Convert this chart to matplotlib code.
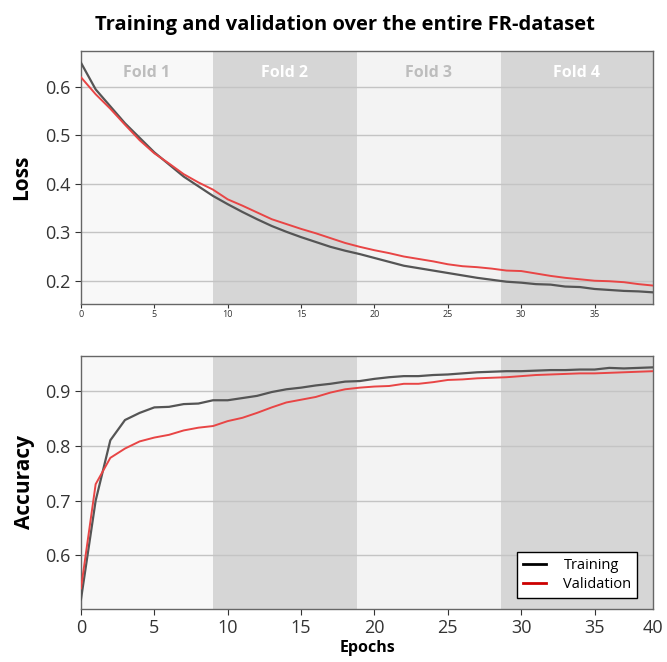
import numpy as np
import matplotlib
matplotlib.use('Agg')
import matplotlib.pyplot as plt
from matplotlib.lines import Line2D

plt.rcParams['font.family'] = ['Open Sans', 'DejaVu Sans']

# epochs
epochs = np.arange(40)

loss_train = [0.650, 0.595, 0.560, 0.525, 0.495, 0.465, 0.440, 0.415, 0.395, 0.375,
              0.358, 0.342, 0.327, 0.313, 0.301, 0.290, 0.280, 0.270, 0.262, 0.255,
              0.247, 0.239, 0.231, 0.226, 0.221, 0.216, 0.211, 0.206, 0.202, 0.198,
              0.196, 0.193, 0.192, 0.188, 0.187, 0.183, 0.181, 0.179, 0.178, 0.176]
loss_val = [0.620, 0.585, 0.555, 0.522, 0.490, 0.463, 0.442, 0.420, 0.403, 0.388,
            0.368, 0.355, 0.341, 0.327, 0.317, 0.307, 0.298, 0.288, 0.278, 0.270,
            0.263, 0.257, 0.250, 0.245, 0.240, 0.234, 0.230, 0.228, 0.225, 0.221,
            0.220, 0.215, 0.210, 0.206, 0.203, 0.200, 0.199, 0.197, 0.193, 0.190]

acc_train = [0.520, 0.700, 0.810, 0.847, 0.860, 0.870, 0.871, 0.876, 0.877, 0.883,
             0.883, 0.887, 0.891, 0.898, 0.903, 0.906, 0.910, 0.913, 0.917, 0.918,
             0.922, 0.925, 0.927, 0.927, 0.929, 0.930, 0.932, 0.934, 0.935, 0.936,
             0.936, 0.937, 0.938, 0.938, 0.939, 0.939, 0.942, 0.941, 0.942, 0.943]
acc_val = [0.540, 0.730, 0.778, 0.795, 0.808, 0.815, 0.820, 0.828, 0.833, 0.836,
           0.845, 0.851, 0.860, 0.870, 0.879, 0.884, 0.889, 0.897, 0.903, 0.906,
           0.908, 0.909, 0.913, 0.913, 0.916, 0.920, 0.921, 0.923, 0.924, 0.925,
           0.927, 0.929, 0.930, 0.931, 0.932, 0.932, 0.933, 0.934, 0.935, 0.936]

# fold boundaries (in epochs)
fold_names  = ['Fold 1', 'Fold 2', 'Fold 3', 'Fold 4']
fold_edges  = [0, 9.0, 18.8, 28.6, 39]
fold_colors = ['#f8f8f8', '#d6d6d6', '#f3f3f3', '#d6d6d6']
fold_text   = ['#bdbdbd', '#ffffff', '#bdbdbd', '#ffffff']

fig = plt.figure(figsize=(6.67, 6.62), dpi=100)
ax1 = fig.add_axes([0.1214, 0.5408, 0.858, 0.382])
ax2 = fig.add_axes([0.1214, 0.0805, 0.858, 0.382])

train_col = '#555555'
val_col   = '#e84545'

for ax in (ax1, ax2):
    for i in range(4):
        ax.axvspan(fold_edges[i], fold_edges[i+1], color=fold_colors[i], zorder=0, lw=0)
    ax.grid(axis='y', color='#c4c4c4', lw=1, zorder=1)
    ax.set_axisbelow(True)
    for s in ax.spines.values():
        s.set_color('#666666')
        s.set_linewidth(1)
    ax.set_xlim(0, 39)
    ax.tick_params(colors='#333333', direction='out')

# Loss
ax1.plot(epochs, loss_train, color=train_col, lw=1.6, zorder=3)
ax1.plot(epochs, loss_val, color=val_col, lw=1.4, zorder=3)
ax1.set_ylim(0.152, 0.674)
ax1.set_yticks([0.2, 0.3, 0.4, 0.5, 0.6])
ax1.set_xticks([0, 5, 10, 15, 20, 25, 30, 35])
ax1.tick_params(axis='x', labelsize=6.5, length=3, pad=1)
ax1.tick_params(axis='y', labelsize=13, length=4)
ax1.set_ylabel('Loss', fontsize=15, fontweight='bold', labelpad=9)
for i in range(4):
    ax1.text((fold_edges[i] + fold_edges[i+1]) / 2, 0.628, fold_names[i],
             ha='center', va='center', fontsize=11.5, fontweight='bold',
             color=fold_text[i], zorder=2)

# Accuracy
ax2.plot(epochs, acc_train, color=train_col, lw=1.6, zorder=3)
ax2.plot(epochs, acc_val, color=val_col, lw=1.4, zorder=3)
ax2.set_ylim(0.503, 0.964)
ax2.set_yticks([0.6, 0.7, 0.8, 0.9])
ax2.set_xticks([0, 5, 10, 15, 20, 25, 30, 35, 39])
ax2.set_xticklabels(['0', '5', '10', '15', '20', '25', '30', '35', '40'])
ax2.tick_params(axis='both', labelsize=13, length=4)
ax2.xaxis.get_major_ticks()[-1].tick1line.set_visible(False)
ax2.set_ylabel('Accuracy', fontsize=15, fontweight='bold', labelpad=7)
ax2.set_xlabel('Epochs', fontsize=11.5, fontweight='bold', labelpad=2)

handles = [Line2D([], [], color='black', lw=2), Line2D([], [], color='#cc0000', lw=2)]
leg = ax2.legend(handles, ['Training', 'Validation'], loc='lower right', fontsize=10.5,
                 frameon=True, fancybox=False, edgecolor='black',
                 bbox_to_anchor=(0.985, 0.015), handlelength=1.6,
                 borderpad=0.4, labelspacing=0.25, handletextpad=1.2)
leg.get_frame().set_linewidth(1)
leg.get_frame().set_facecolor('white')
leg.get_frame().set_alpha(1)

fig.text(0.517, 0.962, 'Training and validation over the entire FR-dataset',
         ha='center', va='center', fontsize=14.5, fontweight='bold')

fig.savefig('out.png', dpi=100)
